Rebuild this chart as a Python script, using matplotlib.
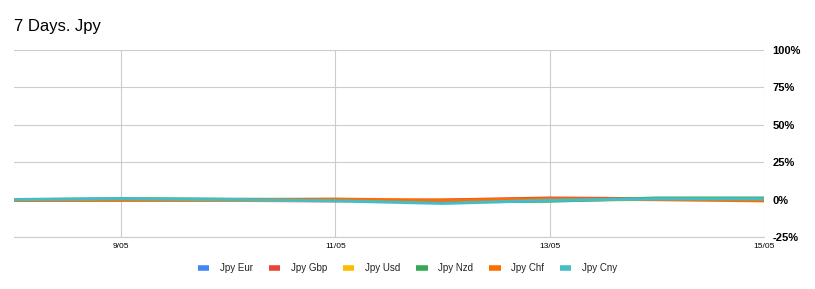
import matplotlib
matplotlib.use("Agg")
import matplotlib.pyplot as plt
from matplotlib.ticker import FixedLocator, FuncFormatter

days = [8, 9, 10, 11, 12, 13, 14, 15]
tick_days = [9, 11, 13, 15]
tick_labels = ["9/05", "11/05", "13/05", "15/05"]

series_names = ["Jpy Eur", "Jpy Gbp", "Jpy Usd", "Jpy Nzd", "Jpy Chf", "Jpy Cny"]
jpy_eur = [0.0, 0.2, 0.0, -0.3, -1.0, 0.3, 0.5, 0.5]
jpy_gbp = [-0.5, -0.5, -0.5, -0.8, -0.3, 1.0, 0.5, 0.3]
jpy_usd = [-0.3, -0.2, -0.3, -0.4, -0.8, -0.6, 0.3, 0.2]
jpy_nzd = [-0.2, 0.5, 0.2, 0.0, -1.5, -1.0, 1.0, 1.0]
jpy_chf = [-0.5, -0.3, -0.2, 0.3, -0.5, 0.5, 0.0, -0.8]
jpy_cny = [0.0, 0.5, 0.0, -0.8, -2.5, -0.5, 0.5, 0.5]
values = [jpy_eur, jpy_gbp, jpy_usd, jpy_nzd, jpy_chf, jpy_cny]
colors = ["#4285F4", "#EA4335", "#FBBC04", "#34A853", "#FF6D01", "#46BDC6"]

plt.rcParams["font.family"] = ["Liberation Sans", "DejaVu Sans"]

fig = plt.figure(figsize=(8.15, 2.89), dpi=100)
ax = fig.add_axes([14/815, 52/289, 750/815, 187/289])

for name, v, c in zip(series_names, values, colors):
    ax.plot(days, v, color=c, lw=2.3, label=name, solid_capstyle="butt")

ax.set_xlim(8, 15)
ax.set_ylim(-25, 100)
ax.xaxis.set_major_locator(FixedLocator(tick_days))
ax.set_xticklabels(tick_labels, fontsize=6)
ax.yaxis.set_major_locator(FixedLocator([-25, 0, 25, 50, 75, 100]))
ax.yaxis.set_major_formatter(FuncFormatter(lambda v, p: f"{int(v)}%"))
ax.yaxis.tick_right()
for lab in ax.get_yticklabels():
    lab.set_fontweight("bold")
    lab.set_fontsize(8)
ax.tick_params(axis="both", length=0)
ax.tick_params(axis="y", pad=6)
ax.tick_params(axis="x", pad=4)
ax.grid(True, color="#cccccc", lw=0.8)
ax.set_axisbelow(True)
for s in ["left", "top", "right"]:
    ax.spines[s].set_visible(False)
ax.spines["bottom"].set_color("#cccccc")
ax.spines["bottom"].set_linewidth(0.8)

fig.text(14/815, 1 - 27/289, "7 Days. Jpy", fontsize=12, va="center", ha="left", color="#000000")

leg = fig.legend(loc="center", bbox_to_anchor=(0.5, 1 - 268/289), ncol=6, frameon=False,
                 fontsize=7, handlelength=1.2, handleheight=0.5, columnspacing=1.6,
                 handletextpad=1.1)
for h in leg.legend_handles:
    h.set_linewidth(4)
for t in leg.get_texts():
    t.set_color("#222222")

fig.savefig("out.png", dpi=100)
